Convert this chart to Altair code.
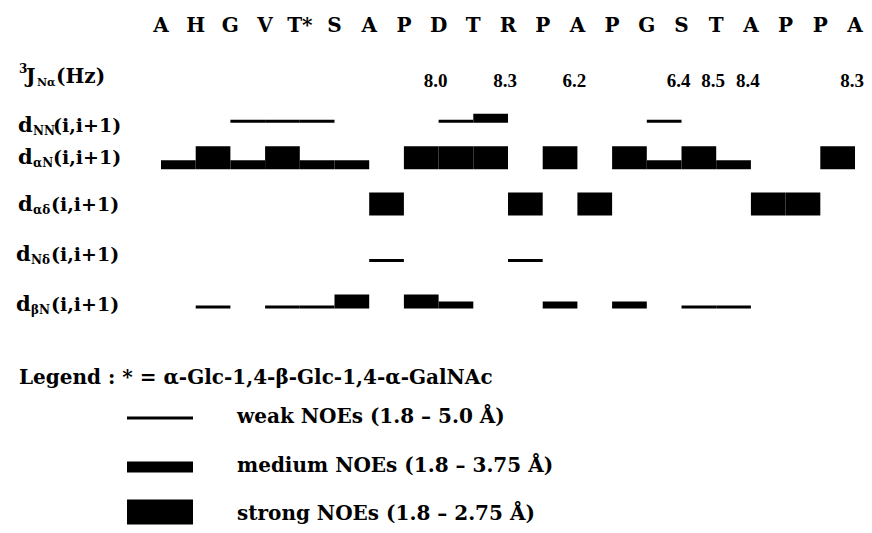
import altair as alt
import pandas as pd

# ---------------- data ----------------
residues = ["A", "H", "G", "V", "T*", "S", "A", "P", "D", "T", "R",
            "P", "A", "P", "G", "S", "T", "A", "P", "P", "A"]

j_residue = [8, 10, 12, 15, 16, 17, 20]
j_value = ["8.0", "8.3", "6.2", "6.4", "8.5", "8.4", "8.3"]

rows = ["J", "NN", "aN", "ad", "Nd", "bN"]

# connectivity (i, i+1): start residue index and NOE strength
nn_start = [2, 3, 4, 8, 9, 14]
nn_strength = ["weak", "weak", "weak", "weak", "medium", "weak"]

an_start = [0, 1, 2, 3, 4, 5, 7, 8, 9, 11, 13, 14, 15, 16, 19]
an_strength = ["medium", "strong", "medium", "strong", "medium", "medium",
               "strong", "strong", "strong", "strong", "strong", "medium",
               "strong", "medium", "strong"]

ad_start = [6, 10, 12, 17, 18]
ad_strength = ["strong", "strong", "strong", "strong", "strong"]

nd_start = [6, 10]
nd_strength = ["weak", "weak"]

bn_start = [1, 3, 4, 5, 7, 8, 11, 13, 15, 16]
bn_strength = ["weak", "weak", "weak", "strong", "strong", "medium",
               "medium", "medium", "weak", "weak"]

# ---------------- tables ----------------
seg_rows = []
for row, starts, strengths in [("NN", nn_start, nn_strength),
                               ("aN", an_start, an_strength),
                               ("ad", ad_start, ad_strength),
                               ("Nd", nd_start, nd_strength),
                               ("bN", bn_start, bn_strength)]:
    for s, st in zip(starts, strengths):
        seg_rows.append({"row": row, "i": s, "i1": s + 1, "strength": st})
seg_df = pd.DataFrame(seg_rows)

res_df = pd.DataFrame({"k": list(range(len(residues))), "res": residues})
j_df = pd.DataFrame({"k": j_residue, "val": j_value, "row": ["J"] * len(j_value)})

# ---------------- scales ----------------
W, H = 856, 517
X = alt.Scale(domain=[-4.409, 20.259], range=[0, W], nice=False, zero=False)
Y = alt.Scale(type="point", domain=rows, range=[68.4, 300.4], padding=0)

FONT = "DejaVu Serif"

thick_default = {"weak": 3, "medium": 9, "strong": 23}
thick_bn = {"weak": 3, "medium": 7, "strong": 14}

layers = []
for grp, thick in [("default", thick_default), ("bN", thick_bn)]:
    for st, h in thick.items():
        if grp == "bN":
            cond = f"datum.row == 'bN' && datum.strength == '{st}'"
        else:
            cond = f"datum.row != 'bN' && datum.strength == '{st}'"
        layers.append(
            alt.Chart(seg_df).transform_filter(cond)
            .mark_rule(strokeWidth=h, yOffset=-h / 2, strokeCap="butt", color="black")
            .encode(x=alt.X("i:Q", scale=X, axis=None),
                    x2="i1:Q",
                    y=alt.Y("row:N", scale=Y, axis=None))
        )

# residue letters
layers.append(
    alt.Chart(res_df).mark_text(font=FONT, fontWeight="bold", fontSize=20,
                                baseline="middle", color="black")
    .encode(x=alt.X("k:Q", scale=X, axis=None), y=alt.value(18), text="res:N")
)

# coupling constants
layers.append(
    alt.Chart(j_df).mark_text(font="Liberation Serif", fontWeight="bold", fontSize=19,
                              baseline="middle", color="black", dy=5, dx=-3)
    .encode(x=alt.X("k:Q", scale=X, axis=None),
            y=alt.Y("row:N", scale=Y, axis=None), text="val:N")
)


def txt(t, x, y, size, align="left", weight="bold"):
    return (alt.Chart(pd.DataFrame({"t": [t]}))
            .mark_text(font=FONT, fontWeight=weight, fontSize=size, align=align,
                       baseline="middle", color="black")
            .encode(x=alt.value(x - 8), y=alt.value(y - 8), text="t:N"))


def rule(x1, x2, y, w):
    return (alt.Chart(pd.DataFrame({"t": [0]}))
            .mark_rule(strokeWidth=w, strokeCap="butt", color="black")
            .encode(x=alt.value(x1 - 8), x2=alt.value(x2 - 8), y=alt.value(y - 8)))


# row labels
layers += [
    txt("3", 19, 69, 12), txt("J", 26, 77, 20), txt("Nα", 37, 83, 11), txt("(Hz)", 56, 77, 20),
    txt("d", 18, 126, 21), txt("NN", 33, 131, 12), txt("(i,i+1)", 53, 126, 19),
    txt("d", 18, 158, 21), txt("αN", 33, 163, 12), txt("(i,i+1)", 53, 158, 19),
    txt("d", 18, 205, 21), txt("αδ", 33, 210, 12), txt("(i,i+1)", 51, 205, 19),
    txt("d", 16, 255, 21), txt("Nδ", 31, 260, 12), txt("(i,i+1)", 51, 255, 19),
    txt("d", 16, 305, 21), txt("βN", 31, 310, 12), txt("(i,i+1)", 51, 305, 19),
]

# legend
layers += [
    txt("Legend : * = α-Glc-1,4-β-Glc-1,4-α-GalNAc", 19, 378, 20),
    rule(127, 193, 418, 3), txt("weak NOEs (1.8 – 5.0 Å)", 237, 417, 20),
    rule(127, 193, 467, 11), txt("medium NOEs (1.8 – 3.75 Å)", 237, 466, 20),
    rule(127, 193, 512, 25), txt("strong NOEs (1.8 – 2.75 Å)", 237, 514, 20),
]

chart = alt.LayerChart(layer=layers).properties(
    width=W, height=H, padding=0,
    autosize=alt.AutoSizeParams(type="none"),
    background="white",
).configure_view(stroke=None)

chart.save("out.html", embed_options={"renderer": "svg", "actions": False})
